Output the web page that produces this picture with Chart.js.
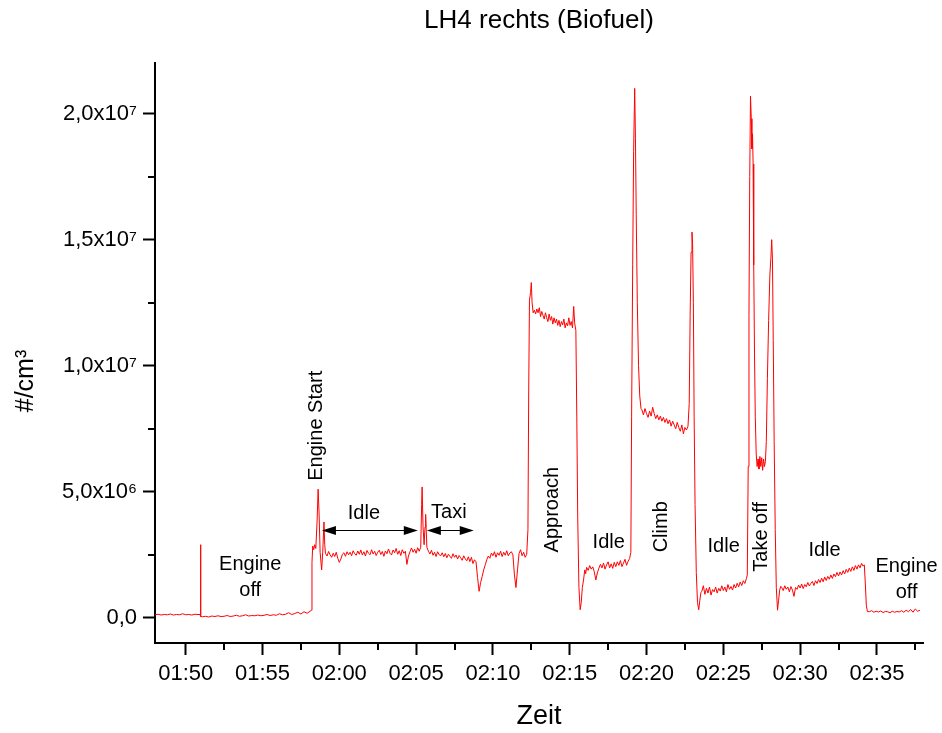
<!DOCTYPE html>
<html><head><meta charset="utf-8">
<script src="https://cdn.jsdelivr.net/npm/chart.js@4"></script>
<style>html,body{margin:0;padding:0;background:#fff}canvas{display:block}</style>
</head><body>
<canvas id="c" width="942" height="733"></canvas>
<script>
// ---- DATA (time in minutes after 00:00, concentration in 10^6 #/cm³) ----
const offA = [0.12,0.14,0.11,0.13,0.12,0.15,0.11,0.13,0.12,0.16,0.12,0.13,0.11,0.14,0.13];           // 01:48.0 step 0.2
const spikeA = [[110.93,0.13],[110.96,2.9],[110.99,0.05]];
const offB = [0.04,0.06,0.03,0.07,0.05,0.08,0.05,0.06,0.09,0.05,0.07,0.1,0.06,0.08,0.12,0.07,0.09,0.08,
              0.11,0.08,0.1,0.13,0.09,0.12,0.1,0.16,0.12,0.14,0.2,0.13,0.17,0.22,0.15,0.24,0.18,0.26];  // 01:51.1 step 0.2
const engineStart = [[118.17,0.3],[118.22,2.2],[118.27,2.85],[118.33,2.7],[118.4,2.9],[118.47,2.75],[118.55,3.8],
                     [118.62,5.1],[118.68,4.2],[118.75,2.6],[118.85,1.9],[118.92,2.6],[119.0,3.8],[119.05,2.9]];
const idleA = [2.55,2.45,2.63,2.5,2.4,2.56,2.43,2.6,2.36,2.2,
               2.33,2.52,2.58,2.44,2.62,2.5,2.6,2.46,2.66,2.54,
               2.48,2.65,2.52,2.69,2.49,2.62,2.45,2.67,2.56,2.5,
               2.7,2.53,2.64,2.47,2.6,2.68,2.51,2.63,2.44,2.65,
               2.54,2.73,2.56,2.49,2.69,2.58,2.75,2.52,2.66,2.47,
               2.7,2.56,2.64,2.12,2.45,2.62,2.77,2.6,2.72,2.56,
               2.78,2.64];                                                                             // 01:59.1 step 0.1
const taxiSpike = [[125.3,2.8],[125.36,4.5],[125.39,5.19],[125.45,3.6],[125.52,2.9],[125.58,3.6],[125.62,4.1],[125.7,2.8]];
const taxi = [2.64,2.53,2.68,2.48,2.6,2.43,2.62,2.5,2.46,2.58,
              2.42,2.55,2.38,2.52,2.44,2.36,2.54,2.4,2.49,2.33,
              2.47,2.38,2.28,2.46,2.34,2.26,2.42,2.23,2.4,2.15,
              2.3,2.22,1.6,1.05,1.4,1.64,1.9,2.1,2.3,2.45,
              2.36,2.57,2.46,2.62,2.4,2.58,2.48,2.64,2.43,2.6,
              2.48,2.66,2.46,2.57,2.62,2.5,1.7,1.2,1.9,2.55,
              2.7,2.46,2.6,2.4,2.52];                                                                  // 02:05.8 step 0.1
const approachRise = [[132.28,3.5],[132.33,9],[132.38,12.6],[132.45,12.9],[132.5,13.3],[132.55,12.5],[132.62,12.1]];
const approach = [12.2,12.05,12.25,12.1,12.3,11.95,12.15,12.0,11.85,12.1,
                  11.9,11.75,12.05,11.8,11.95,11.65,11.9,11.7,11.85,11.6,
                  11.8,11.55,11.75,11.62,11.85,11.5,11.7,11.58,11.9,11.6,
                  11.75,11.5,12.35];                                                                   // 02:12.7 step 0.08
const approachFall = [[135.32,11.7],[135.4,11.4],[135.46,8],[135.52,4],[135.6,1.2],[135.68,0.32],[135.75,0.6],
                      [135.82,1.2],[135.9,1.5],[135.98,1.9],[136.04,1.75]];
const idleB = [2.0,1.88,2.07,1.93,2.02,1.83,1.5,1.78,1.97,2.12,
               1.98,2.17,1.93,2.1,2.22,1.98,2.14,1.96,2.2,2.03,
               2.22,2.08,2.27,2.03,2.17,2.32,2.08,2.24,2.35];                                          // 02:16.1 step 0.1
const climbPeak = [[138.98,2.6],[139.03,8],[139.1,14],[139.16,18.5],[139.23,21.0],[139.28,19],[139.33,16],
                   [139.4,12.5],[139.48,10],[139.56,8.8],[139.64,8.3]];
const climb = [8.25,8.05,8.3,8.1,7.95,8.2,8.0,8.35,8.1,7.9,
               8.05,7.85,8.0,7.8,7.95,7.75,7.9,7.7,7.85,7.6,
               7.8,7.65,7.5,7.75,7.55,7.4,7.65,7.3,7.55,7.45,
               7.6];                                                                                    // 02:19.7 step 0.1
const climbEnd = [[142.78,8.5],[142.84,12],[142.9,14.5],[142.96,15.3],[143.0,14.8],[143.05,12.5],[143.1,8],
                  [143.16,4.5],[143.24,1.8],[143.32,0.6],[143.4,0.32],[143.47,0.7],[143.54,1.0]];
const idleC = [1.05,1.27,0.93,1.17,0.98,1.22,0.9,1.12,1.03,1.22,
               0.98,1.17,1.06,1.27,1.08,1.22,1.03,1.32,1.13,1.24,
               1.1,1.32,1.18,1.37,1.23,1.42,1.28,1.47,1.36,1.55];                                     // 02:23.6 step 0.1
const takeOff = [[146.56,1.7],[146.62,6],[146.67,12],[146.72,17.5],[146.77,20.7],[146.82,19.8],[146.86,18.6],
                 [146.9,19.2],[146.94,18.0],[146.98,14],[147.03,10.5],[147.08,8],[147.14,6.5],[147.2,6.0],
                 [147.26,6.3],[147.32,5.9],[147.38,6.4],[147.44,6.0],[147.5,6.35],[147.56,5.85],[147.62,6.3],
                 [147.68,6.0],[147.74,6.2],[147.8,7],[147.87,9.5],[147.95,11.8],[148.03,13.6],[148.1,14.3],
                 [148.15,15.0],[148.2,14.2],[148.25,11],[148.31,7],[148.38,3.5],[148.45,1.2],[148.53,0.3],
                 [148.6,0.7],[148.67,1.1],[148.74,1.25]];
const idleD = [1.2,1.08,1.27,1.13,1.22,1.03,1.24,1.1,0.85,1.2,
               1.13,1.3,1.18,1.34,1.16,1.32,1.23,1.4,1.26,1.37,
               1.44,1.28,1.47,1.36,1.52,1.4,1.57,1.43,1.62,1.48,
               1.64,1.53,1.7,1.56,1.74,1.63,1.8,1.66,1.82,1.7,
               1.87,1.74,1.92,1.8,1.97,1.84,2.02,1.88,2.07,1.93,
               2.1,1.98,2.16,2.05];                                                                    // 02:28.8 step 0.1
const shutdown = [[154.18,2.1],[154.25,1.3],[154.31,0.5],[154.38,0.25]];
const offC = [0.24,0.28,0.22,0.26,0.23,0.27,0.21,0.25,0.24,0.2,0.26,0.22,0.25,0.23,0.28,0.22,0.3,0.24,0.33,0.22,0.35,0.26,0.3]; // 02:34.5 step 0.15

const majorX = [110,115,120,125,130,135,140,145,150,155];
const minorX = [112.5,117.5,122.5,127.5,132.5,137.5,142.5,147.5,152.5,157.5];
const majorY = [0,5,10,15,20];
const minorY = [2.5,7.5,12.5,17.5];

// ---- assemble series in time order ----
const series = [];
function seg(start, step, vals){ vals.forEach((v,i)=>series.push({x:+(start+i*step).toFixed(3), y:v})); }
function pts(arr){ arr.forEach(p=>series.push({x:p[0], y:p[1]})); }
seg(108.0,0.2,offA); pts(spikeA); seg(111.1,0.2,offB); pts(engineStart);
seg(119.1,0.1,idleA); pts(taxiSpike); seg(125.8,0.1,taxi); pts(approachRise);
seg(132.7,0.08,approach); pts(approachFall); seg(136.1,0.1,idleB); pts(climbPeak);
seg(139.7,0.1,climb); pts(climbEnd); seg(143.6,0.1,idleC); pts(takeOff);
seg(148.8,0.1,idleD); pts(shutdown); seg(154.5,0.15,offC);

// ---- annotation texts (data coordinates) ----
const labels = [
  {text:['Engine','off'], x:114.2, y:1.6},
  {text:['Engine Start'], x:118.54, y:7.62, rot:true},
  {text:['Idle'], x:121.6, y:4.13},
  {text:['Taxi'], x:127.13, y:4.17},
  {text:['Approach'], x:133.9, y:4.29, rot:true},
  {text:['Idle'], x:137.54, y:2.98},
  {text:['Climb'], x:141.0, y:3.61, rot:true},
  {text:['Idle'], x:145.02, y:2.82},
  {text:['Take off'], x:147.5, y:3.21, rot:true},
  {text:['Idle'], x:151.59, y:2.66},
  {text:['Engine','off'], x:156.93, y:1.52}
];
const arrows = [{from:118.87, to:125.11, y:3.49},{from:125.70, to:128.75, y:3.49}];

const FONT = "'Liberation Sans', Arial, sans-serif";
Chart.defaults.font.family = FONT;
Chart.defaults.color = '#000';

const SUP = '⁰¹²³⁴⁵⁶⁷⁸⁹';
function fmtY(v){
  if (Math.abs(v) < 1e-9) return '0,0';
  const total = v*1e6;
  const e = Math.floor(Math.log10(total));
  const m = (total/Math.pow(10,e)).toFixed(1).replace('.',',');
  return m + 'x10' + String(e).split('').map(d=>SUP[+d]).join('');
}
function fmtX(v){
  const h = Math.floor(v/60), m = Math.round(v - h*60);
  return String(h).padStart(2,'0') + ':' + String(m).padStart(2,'0');
}

const decor = {
  id:'decor',
  afterDraw(chart){
    const {ctx, scales:{x, y}} = chart;
    ctx.save();
    ctx.strokeStyle = '#000'; ctx.lineWidth = 2;
    minorX.forEach(v=>{ const px = Math.round(x.getPixelForValue(v));
      ctx.beginPath(); ctx.moveTo(px, y.bottom); ctx.lineTo(px, y.bottom+7); ctx.stroke(); });
    minorY.forEach(v=>{ const py = Math.round(y.getPixelForValue(v));
      ctx.beginPath(); ctx.moveTo(x.left, py); ctx.lineTo(x.left-7, py); ctx.stroke(); });
    // y axis title
    ctx.fillStyle = '#000';
    ctx.font = '25px ' + FONT;
    ctx.textAlign = 'center'; ctx.textBaseline = 'middle';
    ctx.save(); ctx.translate(26, 381); ctx.rotate(-Math.PI/2); ctx.fillText('#/cm³', 0, 0); ctx.restore();
    // annotation texts
    ctx.font = '20px ' + FONT;
    labels.forEach(l=>{
      const px = x.getPixelForValue(l.x), py = y.getPixelForValue(l.y);
      if (l.rot){ ctx.save(); ctx.translate(px, py); ctx.rotate(-Math.PI/2); ctx.fillText(l.text[0], 0, 0); ctx.restore(); }
      else { const n = l.text.length; l.text.forEach((t,i)=>ctx.fillText(t, px, py + (i-(n-1)/2)*26)); }
    });
    // double arrows
    ctx.lineWidth = 1;
    arrows.forEach(a=>{
      const x1 = x.getPixelForValue(a.from), x2 = x.getPixelForValue(a.to), py = Math.round(y.getPixelForValue(a.y))+0.5;
      ctx.beginPath(); ctx.moveTo(x1+4, py); ctx.lineTo(x2-4, py); ctx.stroke();
      ctx.beginPath(); ctx.moveTo(x1, py); ctx.lineTo(x1+14, py-4.5); ctx.lineTo(x1+14, py+4.5); ctx.closePath(); ctx.fill();
      ctx.beginPath(); ctx.moveTo(x2, py); ctx.lineTo(x2-14, py-4.5); ctx.lineTo(x2-14, py+4.5); ctx.closePath(); ctx.fill();
    });
    ctx.restore();
  }
};

new Chart(document.getElementById('c'), {
  type:'line',
  data:{ datasets:[{ data: series, borderColor:'#ff0000', borderWidth:1, pointRadius:0, tension:0, fill:false }] },
  options:{
    responsive:false, animation:false, devicePixelRatio:1,
    layout:{ padding:{left:0, right:19, top:0, bottom:0} },
    plugins:{
      legend:{display:false}, tooltip:{enabled:false},
      title:{ display:true, fullSize:false, text:'LH4 rechts (Biofuel)', color:'#000',
              font:{size:26, weight:'normal'}, padding:{top:5, bottom:27} }
    },
    scales:{
      x:{ type:'linear', min:108, max:158,
          afterBuildTicks: s => { s.ticks = majorX.map(v=>({value:v})); },
          afterFit: s => { s.height = 90; },
          ticks:{ callback: v => fmtX(v), font:{size:22}, color:'#000', padding:6, maxRotation:0, autoSkip:false },
          grid:{ display:true, drawOnChartArea:false, drawTicks:true, tickLength:12, tickWidth:2, tickColor:'#000' },
          border:{ display:true, color:'#000', width:2 },
          title:{ display:true, text:'Zeit', color:'#000', font:{size:27}, padding:{top:0, bottom:0} } },
      y:{ type:'linear', min:-1, max:22,
          afterBuildTicks: s => { s.ticks = majorY.map(v=>({value:v})); },
          afterFit: s => { s.width = 155; },
          ticks:{ callback: v => fmtY(v), font:{size:22}, color:'#000', padding:6, autoSkip:false },
          grid:{ display:true, drawOnChartArea:false, drawTicks:true, tickLength:12, tickWidth:2, tickColor:'#000' },
          border:{ display:true, color:'#000', width:2 } }
    }
  },
  plugins:[decor]
});
</script>
</body></html>
